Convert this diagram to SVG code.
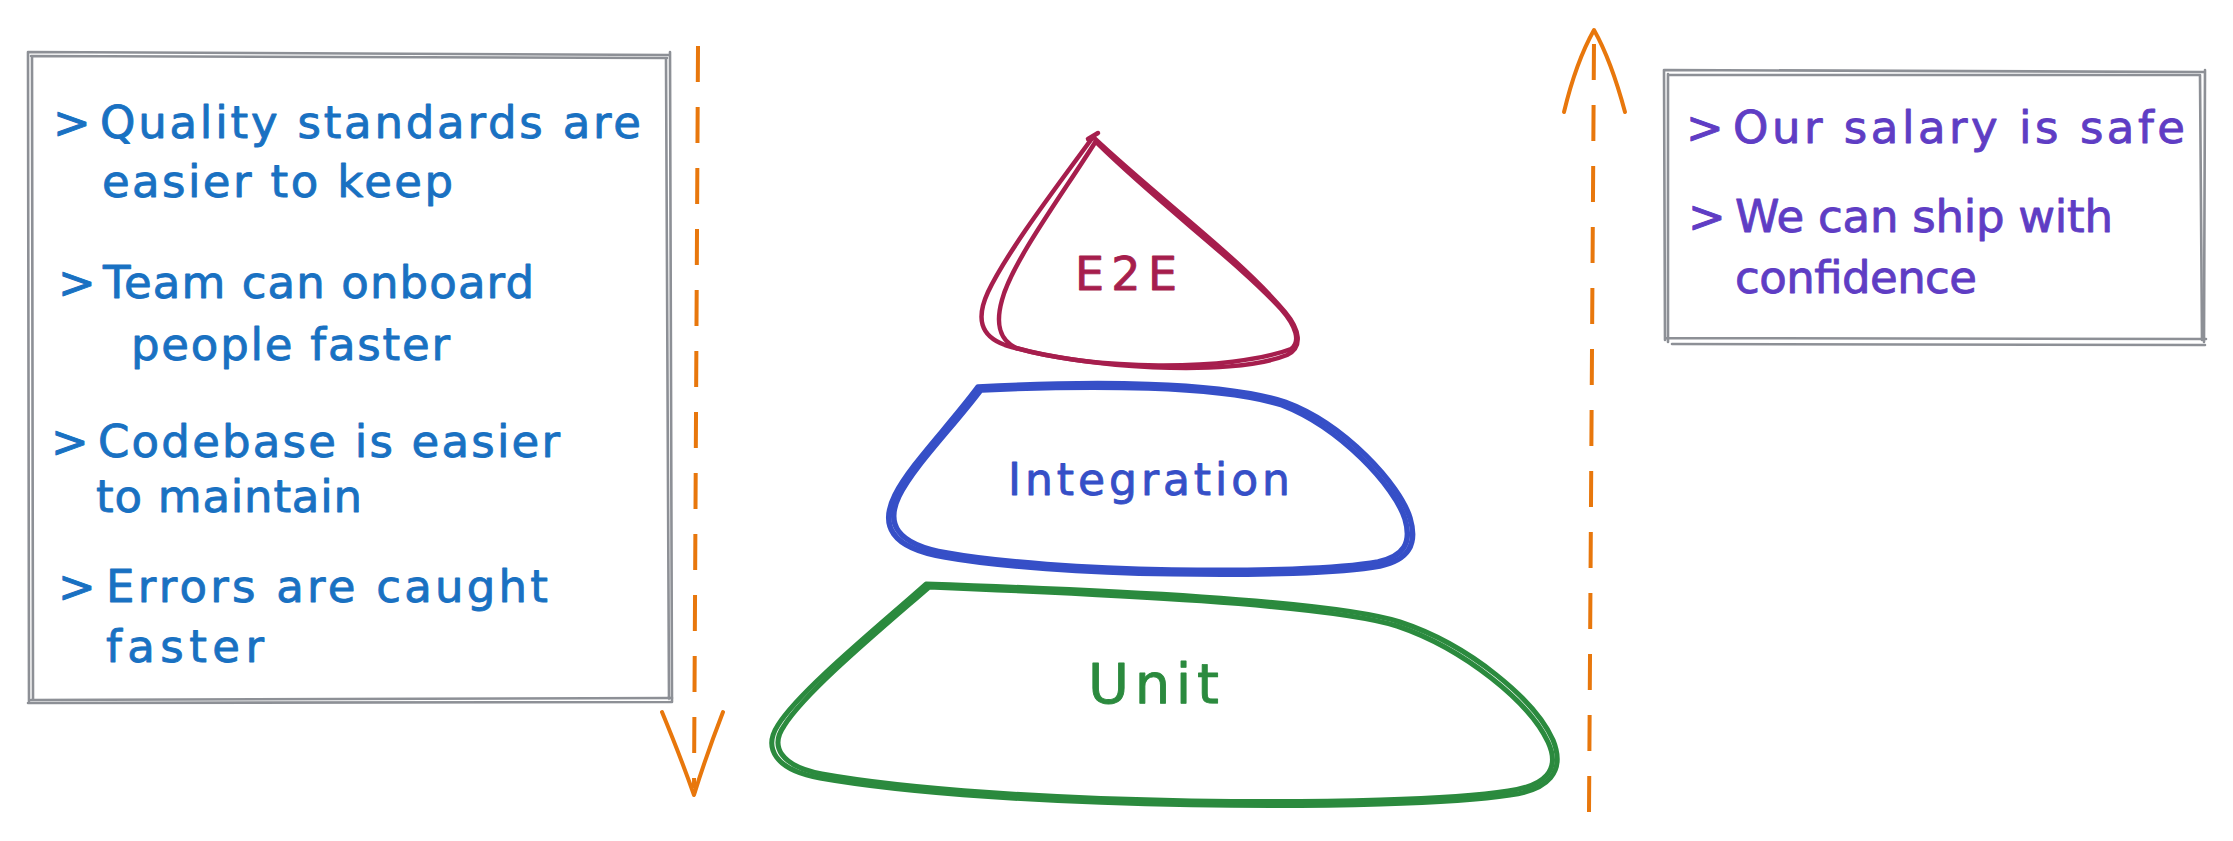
<svg xmlns="http://www.w3.org/2000/svg" width="2233" height="841" viewBox="0 0 2233 841">
<style>
  .bg { fill: #ffffff; }
  .box { fill: none; stroke: #8d9096; stroke-width: 2.6; stroke-linecap: round; }
  .t { font-family: "DejaVu Sans", "Liberation Sans", sans-serif; font-size: 45px; stroke-width: 0.9px; stroke-linejoin: round; }
  .blue { fill: #1971c2; stroke: #1971c2; }
  .violet { fill: #5f3dc4; stroke: #5f3dc4; }
  .shape { fill: none; stroke-linecap: round; stroke-linejoin: round; }
  .e2e { stroke: #a61e4d; stroke-width: 4.5; }
  .int { stroke: #364fc7; stroke-width: 5.5; }
  .unit { stroke: #2b8a3e; stroke-width: 5; }
  .arrow { fill: none; stroke: #e8770c; stroke-width: 4; stroke-linecap: butt; }
  .dash { stroke-dasharray: 36 25; }
  .head { stroke-linecap: round; stroke-linejoin: round; }
</style>
<rect class="bg" x="0" y="0" width="2233" height="841"/>

<g id="connectors">
  <g id="arrow-down">
    <path class="arrow dash" d="M 698 46 L 694 788"/>
    <path class="arrow head" d="M 662 712 Q 681 758 694 795 Q 706 756 723 712"/>
  </g>
  <g id="arrow-up">
    <path class="arrow dash" d="M 1589 812 L 1594 40"/>
    <path class="arrow head" d="M 1564 112 Q 1576 62 1594 30 Q 1611 60 1625 112"/>
  </g>
</g>

<g id="left-box">
  <path class="box" d="M 28 52 L 670 55 M 670 52 L 672 702 M 671 702 L 28 703 M 29 703 L 28 52"/>
  <path class="box" d="M 31 56 L 667 58 M 666 58 L 669 699 M 672 698 L 31 700 M 33 700 L 32 57"/>
  <text class="t blue" y="138"><tspan x="53">&gt;</tspan><tspan x="100" textLength="541">Quality standards are</tspan></text>
  <text class="t blue" y="197"><tspan x="102" textLength="351">easier to keep</tspan></text>
  <text class="t blue" y="298"><tspan x="58">&gt;</tspan><tspan x="103" textLength="431">Team can onboard</tspan></text>
  <text class="t blue" y="360"><tspan x="131" textLength="319">people faster</tspan></text>
  <text class="t blue" y="457"><tspan x="51">&gt;</tspan><tspan x="98" textLength="462">Codebase is easier</tspan></text>
  <text class="t blue" y="512"><tspan x="96" textLength="266">to maintain</tspan></text>
  <text class="t blue" y="602"><tspan x="58">&gt;</tspan><tspan x="106" textLength="442">Errors are caught</tspan></text>
  <text class="t blue" y="662"><tspan x="106" textLength="158">faster</tspan></text>
</g>

<g id="right-box">
  <path class="box" d="M 1665 70 L 2203 72 M 2205 70 L 2204 342 M 2206 339 L 1665 338 M 1665 340 L 1664 70"/>
  <path class="box" d="M 1668 75 L 2200 75 M 2200 75 L 2202 340 M 2205 345 L 1672 344 M 1668 342 L 1668 74"/>
  <text class="t violet" y="143"><tspan x="1686">&gt;</tspan><tspan x="1733" textLength="452">Our salary is safe</tspan></text>
  <text class="t violet" y="232"><tspan x="1688">&gt;</tspan><tspan x="1735" textLength="378">We can ship with</tspan></text>
  <text class="t violet" y="293"><tspan x="1735" textLength="242">confidence</tspan></text>
</g>

<g id="e2e">
  <path class="shape e2e" d="M 1093 137 C 1058 185, 1008 250, 988 292 C 976 318, 980 336, 1005 345 C 1080 368, 1230 378, 1287 355 C 1303 347, 1300 330, 1285 312 C 1240 258, 1160 200, 1093 137 Z"/>
  <path class="shape e2e" stroke-width="3.2" d="M 1096 141 C 1062 195, 1012 262, 1002 300 C 995 325, 1000 340, 1016 348 C 1090 370, 1230 372, 1291 349 C 1301 342, 1296 326, 1281 309 C 1238 262, 1160 205, 1098 144"/>
  <path class="shape e2e" d="M 1088 139 L 1098 133"/>
  <text class="t" y="290" fill="#a61e4d" stroke="#a61e4d" style="font-size:46px"><tspan x="1075" textLength="102">E2E</tspan></text>
</g>

<g id="integration">
  <path class="shape int" d="M 978 387 C 1090 381, 1220 381, 1285 402 C 1345 424, 1400 485, 1410 518 C 1418 545, 1408 560, 1380 566 C 1300 580, 1050 576, 945 557 C 890 548, 880 525, 895 495 C 910 465, 950 425, 978 387 Z"/>
  <path class="shape int" stroke-width="3" d="M 982 390 C 1090 385, 1218 385, 1282 405 C 1341 428, 1395 487, 1405 519 C 1412 543, 1404 556, 1378 562 C 1300 576, 1050 572, 947 553 C 895 544, 886 523, 899 496 C 914 466, 952 428, 980 391"/>
  <text class="t" y="495" fill="#364fc7" stroke="#364fc7" style="font-size:44px"><tspan x="1008" textLength="282">Integration</tspan></text>
</g>

<g id="unit">
  <path class="shape unit" d="M 926 584 C 1100 590, 1330 600, 1400 622 C 1470 645, 1535 700, 1553 740 C 1566 772, 1548 790, 1510 795 C 1400 812, 1000 810, 820 778 C 775 770, 763 748, 778 725 C 800 690, 880 625, 926 584 Z"/>
  <path class="shape unit" stroke-width="3" d="M 929 587 C 1100 594, 1328 604, 1397 626 C 1465 649, 1530 703, 1548 742 C 1561 770, 1545 786, 1508 791 C 1400 808, 1000 806, 822 774 C 780 766, 770 746, 784 726 C 805 692, 882 628, 928 588"/>
  <text class="t" y="703" fill="#2b8a3e" stroke="#2b8a3e" style="font-size:56px"><tspan x="1088" textLength="131">Unit</tspan></text>
</g>
</svg>
